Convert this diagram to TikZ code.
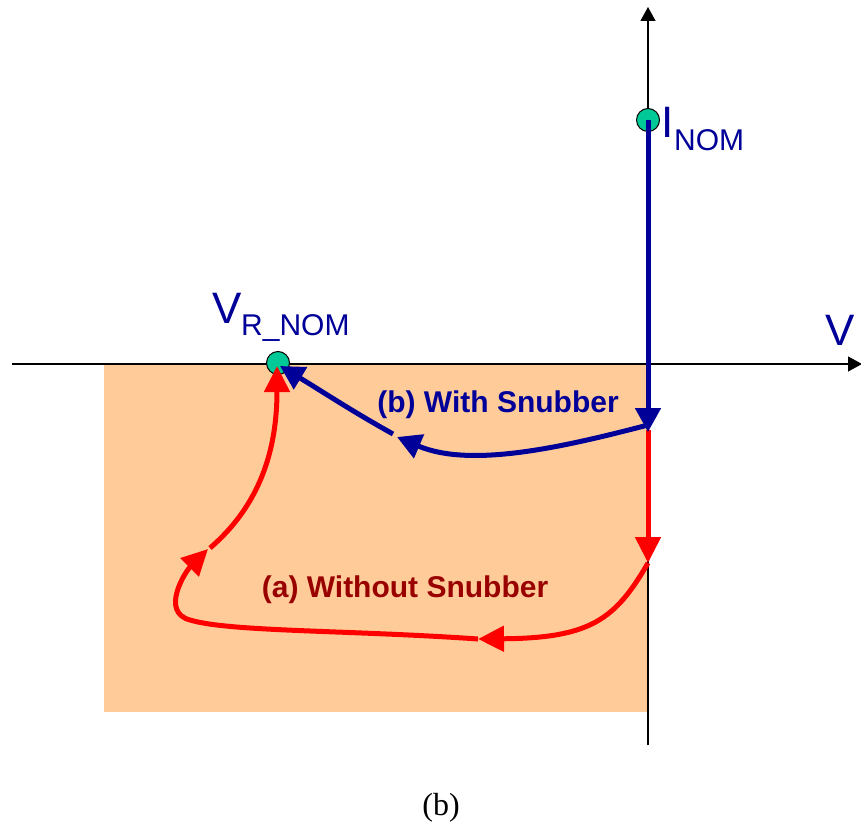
\documentclass[tikz,border=0pt]{standalone}
\usepackage{fontspec}
\setmainfont{Liberation Serif}
\newfontfamily\arialf{Liberation Sans}
\usetikzlibrary{arrows.meta}
\definecolor{peach}{RGB}{255,204,153}
\definecolor{navyb}{RGB}{0,0,153}
\definecolor{darkred}{RGB}{153,0,0}
\definecolor{dotgreen}{RGB}{0,200,150}
\tikzset{
  axis/.style={draw=black, line width=1.2pt, -{Triangle[length=14pt,width=15pt]}},
  bluepath/.style={draw=navyb, line width=5pt, -{Triangle[length=24pt,width=25pt]}},
  redpath/.style={draw=red, line width=5pt, -{Triangle[length=26pt,width=25pt]}},
  dotnode/.style={circle, draw=black, line width=1pt, fill=dotgreen, minimum size=23pt, inner sep=0pt},
  biglbl/.style={inner sep=0pt, anchor=base west, text=navyb, font=\arialf\fontsize{44}{50}\selectfont},
  sublbl/.style={inner sep=0pt, anchor=base west, text=navyb, font=\arialf\fontsize{30}{36}\selectfont},
  curvelbl/.style={inner sep=0pt, anchor=base, font=\arialf\bfseries\fontsize{30}{36}\selectfont},
}
\begin{document}
\begin{tikzpicture}[x=1pt,y=-1pt]
\useasboundingbox (0,0) rectangle (861,824);
% shaded quadrant
\fill[peach] (104,365) rectangle (648,712);
% axes
\coordinate (hstart) at (12,364);
\coordinate (hend) at (862,364);
\coordinate (vstart) at (648,745);
\coordinate (vend) at (648,7);
\draw[axis] (hstart) -- (hend);
\draw[axis] (vstart) -- (vend);
% dots
\node[dotnode] (inom) at (648,120) {};
\node[dotnode] (vrnom) at (278,363) {};
% labels
\node[biglbl] (ilbl) at (661,137) {I};
\node[sublbl] (ilblsub) at (674,150) {NOM};
\node[biglbl] (vlbl) at (212,323) {V};
\node[sublbl] (vlblsub) at (241,335) {R\_NOM};
\node[biglbl] (vaxis) at (825,345) {V};
\node[curvelbl, text=navyb] (blab) at (498,412) {(b) With Snubber};
\node[curvelbl, text=darkred] (alab) at (405,597) {(a) Without Snubber};
\node[inner sep=0pt, anchor=base, font=\fontsize{32}{38}\selectfont] (cap) at (441,815) {(b)};
% path points
\coordinate (bdown) at (648,432);
\coordinate (bstart) at (648,425);
\coordinate (bmid) at (397,437);
\coordinate (bmid2) at (393,434);
\coordinate (bend) at (280,366);
\coordinate (rstart) at (648,430);
\coordinate (rdown) at (648,563);
\coordinate (rbot) at (478,639);
\coordinate (rleft) at (190,620);
\coordinate (rup) at (208,549);
\coordinate (rup2) at (210,548);
\coordinate (rend) at (277,366);
% red path (a)
\draw[redpath] (rstart) -- (rdown);
\draw[redpath] (rdown) .. controls (615,620) and (590,638) .. (rbot);
\draw[redpath] (rbot) .. controls (350,630) and (230,632) .. (rleft) .. controls (160,612) and (185,572) .. (rup);
\draw[redpath] (rup2) .. controls (260,505) and (277,450) .. (rend);
% blue path (b)
\draw[bluepath] (inom.center) -- (bdown);
\draw[bluepath] (bstart) .. controls (560,448) and (470,468) .. (bmid);
\draw[bluepath] (bmid2) .. controls (350,410) and (320,390) .. (bend);
\end{tikzpicture}
\end{document}
